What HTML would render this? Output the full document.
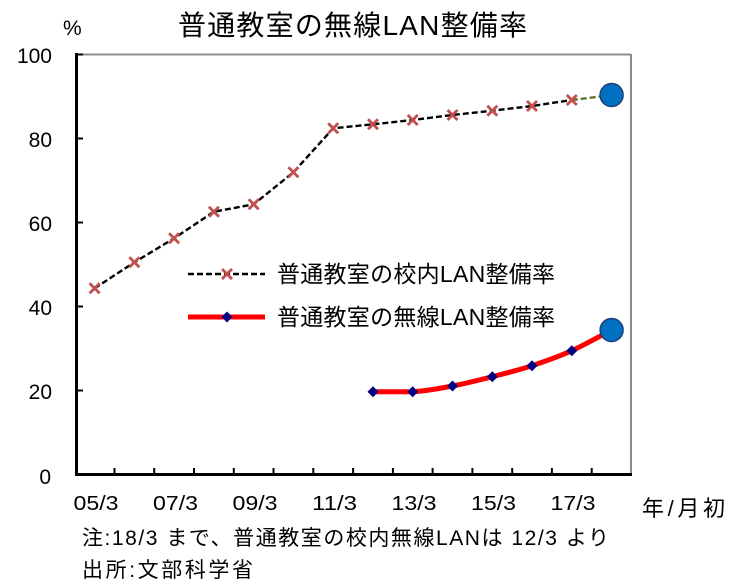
<!DOCTYPE html>
<html>
<head>
<meta charset="utf-8">
<style>
  html, body { margin:0; padding:0; background:#fff; }
  svg { display:block; }
  text { font-family: "Liberation Sans", "Noto Sans CJK JP", sans-serif; fill:#000; }
</style>
</head>
<body>
<svg width="750" height="588" viewBox="0 0 750 588" xmlns="http://www.w3.org/2000/svg">
  <!-- Title -->
  <text x="178" y="35" font-size="28" textLength="349" lengthAdjust="spacing">普通教室の無線LAN整備率</text>
  <text x="63" y="35" font-size="21">%</text>

  <!-- Frame -->
  <line x1="76" y1="54.5" x2="631" y2="54.5" stroke="#8c8c8c" stroke-width="2"/>
  <line x1="631" y1="54" x2="631" y2="475" stroke="#8c8c8c" stroke-width="2"/>
  <!-- Axes -->
  <line x1="76.5" y1="53" x2="76.5" y2="476" stroke="#000" stroke-width="3"/>
  <line x1="75" y1="474.5" x2="632" y2="474.5" stroke="#000" stroke-width="3"/>

  <!-- Y ticks -->
  <g stroke="#000" stroke-width="2">
    <line x1="76" y1="54.5" x2="83" y2="54.5"/>
    <line x1="76" y1="138.5" x2="83" y2="138.5"/>
    <line x1="76" y1="222.5" x2="83" y2="222.5"/>
    <line x1="76" y1="306.5" x2="83" y2="306.5"/>
    <line x1="76" y1="390.5" x2="83" y2="390.5"/>
  </g>
  <!-- Y labels -->
  <g font-size="21" text-anchor="end">
    <text x="52" y="63">100</text>
    <text x="52" y="147">80</text>
    <text x="52" y="231">60</text>
    <text x="52" y="315">40</text>
    <text x="52" y="399">20</text>
    <text x="51" y="484">0</text>
  </g>

  <!-- X ticks -->
  <g stroke="#000" stroke-width="2">
    <line x1="114.5" y1="474" x2="114.5" y2="468"/>
    <line x1="154.2" y1="474" x2="154.2" y2="468"/>
    <line x1="194" y1="474" x2="194" y2="468"/>
    <line x1="233.8" y1="474" x2="233.8" y2="468"/>
    <line x1="273.5" y1="474" x2="273.5" y2="468"/>
    <line x1="313.3" y1="474" x2="313.3" y2="468"/>
    <line x1="353.1" y1="474" x2="353.1" y2="468"/>
    <line x1="392.9" y1="474" x2="392.9" y2="468"/>
    <line x1="432.6" y1="474" x2="432.6" y2="468"/>
    <line x1="472.4" y1="474" x2="472.4" y2="468"/>
    <line x1="512.2" y1="474" x2="512.2" y2="468"/>
    <line x1="551.9" y1="474" x2="551.9" y2="468"/>
    <line x1="591.7" y1="474" x2="591.7" y2="468"/>
  </g>
  <!-- X labels -->
  <g font-size="20" text-anchor="middle">
    <text x="96" y="510" textLength="45" lengthAdjust="spacingAndGlyphs">05/3</text>
    <text x="175.5" y="510" textLength="45" lengthAdjust="spacingAndGlyphs">07/3</text>
    <text x="255" y="510" textLength="45" lengthAdjust="spacingAndGlyphs">09/3</text>
    <text x="334.5" y="510" textLength="45" lengthAdjust="spacingAndGlyphs">11/3</text>
    <text x="414" y="510" textLength="45" lengthAdjust="spacingAndGlyphs">13/3</text>
    <text x="493.5" y="510" textLength="45" lengthAdjust="spacingAndGlyphs">15/3</text>
    <text x="573" y="510" textLength="45" lengthAdjust="spacingAndGlyphs">17/3</text>
  </g>
  <text x="642" y="516" font-size="22" textLength="83" lengthAdjust="spacing">年/月初</text>

  <!-- Series 1: dashed line -->
  <polyline fill="none" stroke="#000" stroke-width="2.4" stroke-dasharray="6,3"
    points="94.6,288.3 134.4,262.3 174.1,238.3 213.9,211.7 253.7,204.3 293.4,172.3 333.2,128.3 373,124.3 412.7,120 452.5,115 492.3,110.7 532,106 571.8,100"/>
  <line x1="571.8" y1="100" x2="611.6" y2="95" stroke="#5f7530" stroke-width="2.4" stroke-dasharray="6,3"/>
  <!-- X markers -->
  <g stroke="#c0504d" stroke-width="2.8" fill="none">
    <path d="M89.6,283.3 l10,10 M99.6,283.3 l-10,10"/>
    <path d="M129.4,257.3 l10,10 M139.4,257.3 l-10,10"/>
    <path d="M169.1,233.3 l10,10 M179.1,233.3 l-10,10"/>
    <path d="M208.9,206.7 l10,10 M218.9,206.7 l-10,10"/>
    <path d="M248.7,199.3 l10,10 M258.7,199.3 l-10,10"/>
    <path d="M288.4,167.3 l10,10 M298.4,167.3 l-10,10"/>
    <path d="M328.2,123.3 l10,10 M338.2,123.3 l-10,10"/>
    <path d="M368,119.3 l10,10 M378,119.3 l-10,10"/>
    <path d="M407.7,115 l10,10 M417.7,115 l-10,10"/>
    <path d="M447.5,110 l10,10 M457.5,110 l-10,10"/>
    <path d="M487.3,105.7 l10,10 M497.3,105.7 l-10,10"/>
    <path d="M527,101 l10,10 M537,101 l-10,10"/>
    <path d="M566.8,95 l10,10 M576.8,95 l-10,10"/>
  </g>
  <circle cx="611.6" cy="95" r="11.5" fill="#0070c0" stroke="#1f3d7a" stroke-width="1.5"/>

  <!-- Series 2: smooth red line -->
  <path fill="none" stroke="#ff0000" stroke-width="5" stroke-linecap="round"
    d="M373,391.7 C379.6,391.7 399.45,391.7 412.7,391.7 C425.95,391.2 439.23,388.5 452.5,386 C465.77,383.5 479.05,380.08 492.3,376.7 C505.55,373.32 518.75,370.03 532,365.7 C545.25,361.37 558.53,356.65 571.8,350.7 C585.07,344.75 604.97,333.45 611.6,330"/>
  <g fill="#000080">
    <path d="M373,386.2 l5.5,5.5 l-5.5,5.5 l-5.5,-5.5 z"/>
    <path d="M412.7,386.2 l5.5,5.5 l-5.5,5.5 l-5.5,-5.5 z"/>
    <path d="M452.5,380.5 l5.5,5.5 l-5.5,5.5 l-5.5,-5.5 z"/>
    <path d="M492.3,371.2 l5.5,5.5 l-5.5,5.5 l-5.5,-5.5 z"/>
    <path d="M532,360.2 l5.5,5.5 l-5.5,5.5 l-5.5,-5.5 z"/>
    <path d="M571.8,345.2 l5.5,5.5 l-5.5,5.5 l-5.5,-5.5 z"/>
  </g>
  <circle cx="611.6" cy="330" r="11.5" fill="#0070c0" stroke="#1f3d7a" stroke-width="1.5"/>

  <!-- Legend -->
  <line x1="188" y1="274" x2="265" y2="274" stroke="#000" stroke-width="2.4" stroke-dasharray="6,3"/>
  <path d="M222,269 l10,10 M232,269 l-10,10" stroke="#c0504d" stroke-width="2.8"/>
  <text x="277" y="282" font-size="23" textLength="278" lengthAdjust="spacing">普通教室の校内LAN整備率</text>
  <line x1="188" y1="317" x2="265" y2="317" stroke="#ff0000" stroke-width="5"/>
  <path d="M227,311.5 l5.5,5.5 l-5.5,5.5 l-5.5,-5.5 z" fill="#000080"/>
  <text x="277" y="325" font-size="23" textLength="278" lengthAdjust="spacing">普通教室の無線LAN整備率</text>

  <!-- Notes -->
  <text x="82" y="545" font-size="21" textLength="527" lengthAdjust="spacing">注:18/3 まで、普通教室の校内無線LANは 12/3 より</text>
  <text x="82" y="577" font-size="21" textLength="171" lengthAdjust="spacing">出所:文部科学省</text>
</svg>
</body>
</html>
